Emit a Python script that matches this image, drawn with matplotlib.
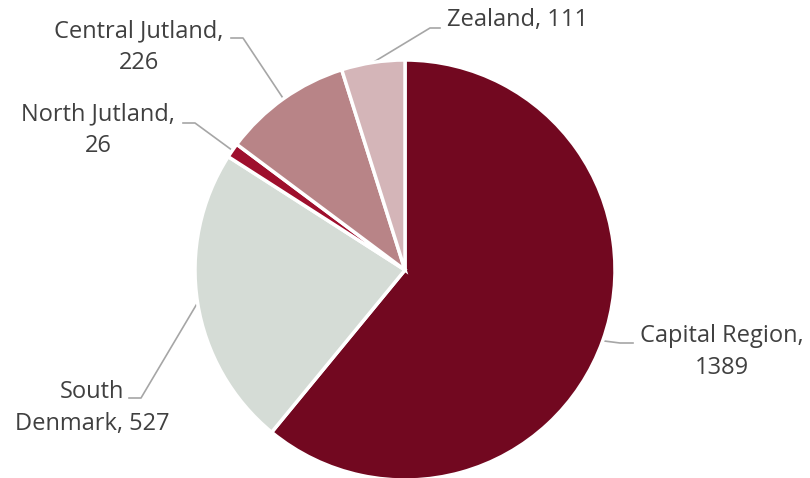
import numpy as np
import matplotlib.pyplot as plt

regions = ['Capital Region', 'South Denmark', 'North Jutland', 'Central Jutland', 'Zealand']
counts = [1389, 527, 26, 226, 111]
colors = ['#720820', '#d5dcd6', '#9e0f2d', '#b88487', '#d4b5b8']

# label text position and elbow of the leader line, in pixel coordinates (y up)
label_pos = [(722, 126), (92, 70), (98, 348), (139, 431), (447, 458)]
label_ha = ['center', 'center', 'center', 'center', 'left']
elbows = [(620, 135), (141, 80), (195, 355), (243, 440), (430, 450)]
ends = [(633, 135), (129, 80), (183, 355), (231, 440), (440, 450)]

plt.rcParams['font.family'] = ['Open Sans', 'DejaVu Sans']

fig = plt.figure(figsize=(8.1, 4.78), dpi=100)
ax = fig.add_axes([0, 0, 1, 1])

cx, cy, r = 405, 208, 210
wedges, _ = ax.pie(counts, colors=colors, startangle=90, counterclock=False,
                   center=(cx, cy), radius=r, frame=True,
                   wedgeprops=dict(edgecolor='white', linewidth=2.5))
ax.set_xlim(0, 810)
ax.set_ylim(0, 478)
ax.set_aspect('equal')
ax.axis('off')

for w, name, val, lp, ha, el, en in zip(wedges, regions, counts, label_pos,
                                        label_ha, elbows, ends):
    mid = np.deg2rad((w.theta1 + w.theta2) / 2)
    x0 = cx + r * np.cos(mid)
    y0 = cy + r * np.sin(mid)
    ax.plot([x0, el[0], en[0]], [y0, el[1], en[1]], color='#a6a6a6', lw=1.2,
            clip_on=False, zorder=0)
    if name == 'Zealand':
        txt = '%s, %d' % (name, val)
    elif name == 'South Denmark':
        txt = 'South\nDenmark, %d' % val
    else:
        txt = '%s,\n%d' % (name, val)
    ax.text(lp[0], lp[1], txt, ha=ha, va='center', fontsize=17,
            color='#404040', linespacing=1.45)

fig.savefig('out.png', dpi=100)
